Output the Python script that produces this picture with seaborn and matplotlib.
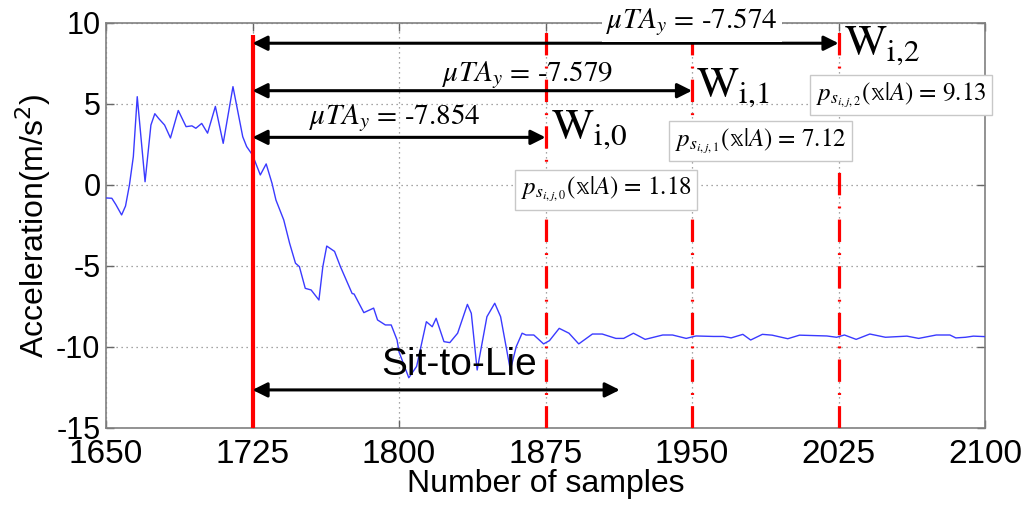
import matplotlib
matplotlib.use("Agg")
import matplotlib.pyplot as plt
import seaborn as sns
import pandas as pd

# ---- data ----
samples = [1650, 1653, 1655, 1658, 1660, 1662, 1664, 1666, 1670, 1673, 1675, 1677, 1680,
           1683, 1687, 1691, 1694, 1696, 1699, 1702, 1706, 1710, 1715, 1720, 1722, 1725,
           1729, 1732, 1735, 1737, 1741, 1744, 1747, 1749, 1752, 1755, 1759, 1761, 1763,
           1767, 1770, 1776, 1777, 1782, 1787, 1789, 1793, 1796, 1799, 1800, 1805, 1809,
           1814, 1817, 1819, 1823, 1826, 1830, 1835, 1837, 1840, 1845, 1849, 1852, 1857,
           1860, 1863, 1865, 1869, 1874, 1877, 1882, 1887, 1892, 1899, 1904, 1911, 1915,
           1920, 1926, 1935, 1940, 1947, 1952, 1961, 1966, 1970, 1976, 1980, 1986, 1991,
           1999, 2005, 2019, 2024, 2028, 2034, 2041, 2049, 2060, 2066, 2075, 2082, 2085,
           2090, 2094, 2100]
accel = [-0.8, -0.82, -1.2, -1.85, -1.3, 0.0, 1.75, 5.45, 0.2, 3.7, 4.4, 4.1, 3.7,
         2.9, 4.6, 3.6, 3.65, 3.5, 3.8, 3.2, 4.85, 2.57, 6.07, 2.98, 2.37, 1.85,
         0.62, 1.3, 0.1, -0.93, -2.16, -3.6, -4.83, -5.04, -6.38, -6.48, -7.1, -5.04, -3.77,
         -4.1, -5.04, -6.7, -6.73, -7.88, -7.6, -8.33, -8.64, -8.64, -9.57, -10.3, -11.9, -11.2,
         -8.44, -8.75, -8.23, -9.67, -9.73, -9.15, -7.37, -7.92, -11.42, -8.13, -7.3, -8.13, -11.42,
         -9.98, -9.15, -9.26, -9.26, -9.81, -9.61, -8.85, -9.15, -9.81, -9.2, -9.2, -9.47, -9.47,
         -9.15, -9.53, -9.26, -9.26, -9.47, -9.32, -9.35, -9.35, -9.44, -9.22, -9.57, -9.22, -9.27,
         -9.49, -9.27, -9.32, -9.4, -9.26, -9.53, -9.2, -9.4, -9.33, -9.47, -9.26, -9.26, -9.44,
         -9.4, -9.33, -9.36]

x_ticks = [1650, 1725, 1800, 1875, 1950, 2025, 2100]
y_ticks = [-15, -10, -5, 0, 5, 10]

start_sample = 1725
window_ends = [1875, 1950, 2025]
window_subs = ["i,0", "i,1", "i,2"]
mu_values = ["-7.854", "-7.579", "-7.574"]
p_values = ["1.18", "7.12", "9.13"]
activity_label = "Sit-to-Lie"
activity_end = 1913

df = pd.DataFrame({"Number of samples": samples, "Acceleration": accel})

sns.set_theme(style="white")
plt.rcParams["font.family"] = ["Liberation Sans", "DejaVu Sans"]
plt.rcParams["axes.unicode_minus"] = False
for k in ["text.color", "axes.labelcolor", "xtick.color", "ytick.color"]:
    plt.rcParams[k] = "black"

fig = plt.figure(figsize=(10.24, 5.05), dpi=100)
ax = fig.add_axes([0.1035, 0.1525, 0.8585, 0.802])

sns.lineplot(data=df, x="Number of samples", y="Acceleration", ax=ax,
             color="#3a3aff", linewidth=1.0, zorder=3)

ax.set_xlim(1650, 2100)
ax.set_ylim(-15, 10)
ax.set_xticks(x_ticks)
ax.set_yticks(y_ticks)
ax.grid(True, linestyle=(0, (1, 3)), color="#888888", linewidth=0.9)
for sp in ax.spines.values():
    sp.set_color("#808080")
    sp.set_linewidth(1.2)
ax.tick_params(direction="in", length=6, width=1, color="#666666",
               top=True, right=True, bottom=True, left=True)
ax.tick_params(axis="y", labelsize=22, pad=4)
ax.tick_params(axis="x", labelsize=24, pad=8)
ax.set_xlabel("Number of samples", fontsize=23, labelpad=-1)
ax.set_ylabel(r"Acceleration(m/s$^2$)", fontsize=23, labelpad=2)

# vertical markers
ax.vlines(start_sample, -15, 9.26, color="red", linewidth=3, zorder=4)
for xe in window_ends:
    ax.vlines(xe, -15, 9.5, color="red", linewidth=2.3, zorder=4,
              linestyles=[(0, (7, 3.5, 0.6, 3.5))])

serif = ["STIXGeneral", "DejaVu Serif"]
arrow_y = [2.94, 5.82, 8.75]
label_pos = [(1798, 4.15), (1866, 6.8), (1950, 10.05)]
w_pos = [(1878, 3.4), (1952, 6.0), (2028, 8.6)]
p_pos = [(1906, -0.3), (1985, 2.7), (2057, 5.55)]
for i, xe in enumerate(window_ends):
    ax.annotate("", xy=(xe, arrow_y[i]), xytext=(start_sample, arrow_y[i]),
                arrowprops=dict(arrowstyle="<|-|>", color="black", lw=2.2,
                                mutation_scale=22, shrinkA=0, shrinkB=0), zorder=5)
    lx, ly = label_pos[i]
    t = ax.text(lx, ly, r"$\mu T A_y$ = " + mu_values[i], ha="center", va="center",
                fontsize=21, fontfamily=serif, math_fontfamily="stix",
                zorder=6, clip_on=False)
    if i == 2:
        t.set_bbox(dict(facecolor="white", edgecolor="none", pad=3))
    wx, wy = w_pos[i]
    ax.text(wx, wy, "W$_{\\mathrm{%s}}$" % window_subs[i].replace(",", "{,}"),
            ha="left", va="center", fontsize=32, fontfamily=serif,
            math_fontfamily="stix", zorder=6, clip_on=False)
    px, py = p_pos[i]
    ax.text(px, py, "$p_{s_{i,j,%d}}$(\U0001D569|$A$) = %s" % (i, p_values[i]),
            ha="center", va="center", fontsize=18,
            fontfamily=["STIXGeneral", "DejaVu Sans"], math_fontfamily="stix",
            zorder=7, clip_on=False,
            bbox=dict(boxstyle="square,pad=0.22", facecolor="white",
                      edgecolor="#c8c8c8", linewidth=1))

# activity arrow
ax.annotate("", xy=(activity_end, -12.65), xytext=(start_sample, -12.65),
            arrowprops=dict(arrowstyle="<|-|>", color="black", lw=2.2,
                            mutation_scale=22, shrinkA=0, shrinkB=0), zorder=5)
ax.text(1831, -11.1, activity_label, ha="center", va="center", fontsize=28, zorder=6)

fig.savefig("out.png", dpi=100)
